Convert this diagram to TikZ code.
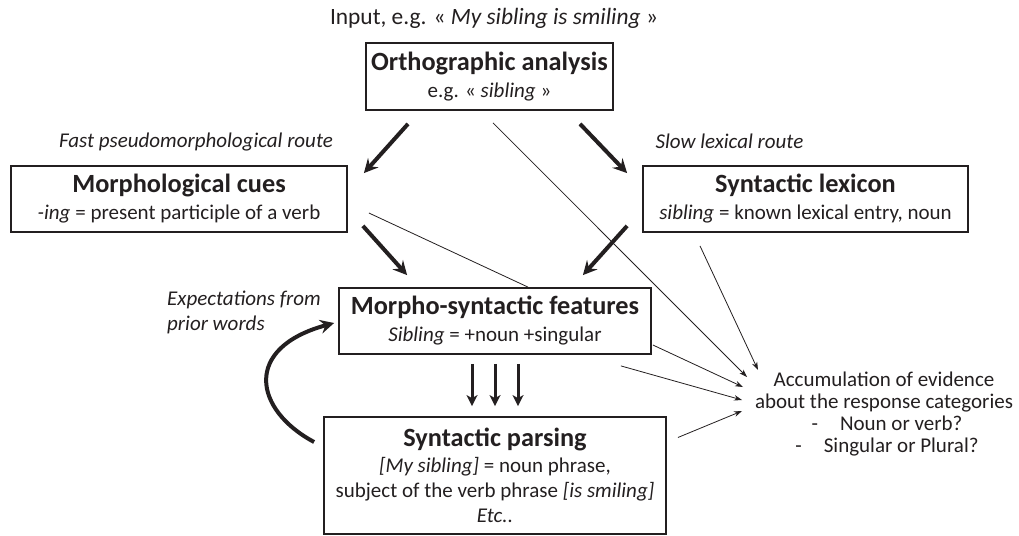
\documentclass[tikz,border=0pt]{standalone}
\usepackage{fontspec}
\setmainfont{Carlito}
\usetikzlibrary{arrows.meta,calc}
\definecolor{ink}{HTML}{231F20}
\newcommand\boxtitle[1]{{\fontsize{26.3}{25}\selectfont\bfseries #1}}
\begin{document}
\begin{tikzpicture}[x=1pt,y=-1pt,
  box/.style={draw=ink,line width=1.8pt,align=center,inner sep=0pt,text=ink,font=\fontsize{21}{25}\selectfont},
  lbl/.style={text=ink,font=\fontsize{21}{25}\selectfont,inner sep=0pt},
  ilbl/.style={text=ink,font=\fontsize{21}{25}\selectfont\itshape,inner sep=0pt},
  bigarrow/.style={draw=ink,line width=4pt,-{Stealth[length=14pt,width=14pt,inset=5pt]}},
  downarrow/.style={draw=ink,line width=3pt,-{Stealth[length=11pt,width=11pt,inset=3pt]}},
  thinarrow/.style={draw=ink,line width=0.8pt,-{Stealth[length=8pt,width=5.5pt]}},
  thinline/.style={draw=ink,line width=0.8pt},
]
\useasboundingbox (0,0) rectangle (1019,535);

% boxes
\node[box,minimum width=247pt,minimum height=67pt] (ortho) at (489.5,76.5)
  {\boxtitle{Orthographic analysis}\\[2pt] e.g. « \textit{sibling} »};
\node[box,minimum width=336pt,minimum height=66pt] (morph) at (179,199)
  {\boxtitle{Morphological cues}\\[2pt] \textit{-ing} = present participle of a verb};
\node[box,minimum width=325pt,minimum height=66pt] (lex) at (805.5,199)
  {\boxtitle{Syntactic lexicon}\\[2pt] \textit{sibling} = known lexical entry, noun};
\node[box,minimum width=312pt,minimum height=66pt] (msf) at (495,321)
  {\boxtitle{Morpho-syntactic features}\\[2pt] \textit{Sibling} = +noun +singular};
\node[box,minimum width=342pt,minimum height=117pt] (parse) at (495,475.5)
  {\boxtitle{Syntactic parsing}\\[1pt] \textit{[My sibling]} = noun phrase,\\ subject of the verb phrase \textit{[is smiling]}\\ \textit{Etc..}};

% labels
\node[lbl,font=\fontsize{23.4}{27}\selectfont] (input) at (494,18) {Input, e.g. « \textit{My sibling is smiling} »};
\node[ilbl] (fast) at (196,142) {Fast pseudomorphological route};
\node[ilbl] (slow) at (729.5,141) {Slow lexical route};
\node[ilbl,align=left,anchor=west] (expect) at (167,312.5) {Expectations from\\prior words};
\node[lbl,align=center,font=\fontsize{21}{22}\selectfont] (accum) at (884,414.5)
  {Accumulation of evidence\\about the response categories\\\hspace{6pt}-\hspace{22pt}Noun or verb?\\\hspace{6pt}-\hspace{22pt}Singular or Plural?};

% thick arrows
\draw[bigarrow] ($(ortho.south)+(-81.5,13)$) -- ($(morph.north east)+(16,8)$);
\draw[bigarrow] ($(ortho.south)+(90.5,13)$) -- ($(lex.north west)+(-15,8)$);
\draw[bigarrow] ($(morph.south east)+(15,-7)$) -- ($(msf.north west)+(69,-12)$);
\draw[bigarrow] ($(lex.south west)+(-15,-7)$) -- ($(msf.north east)+(-69,-12)$);
\foreach \dx in {-23,0,23}
  \draw[downarrow] ($(msf.south)+(\dx,9)$) -- ($(parse.north)+(\dx,-10)$);
\draw[draw=ink,line width=4pt,-{Stealth[length=14pt,width=14pt,inset=5pt]}]
  ($(parse.west)+(-9,-33.5)$) .. controls ($(parse.west)+(-69,-65.5)$) and ($(msf.west)+(-96,27)$) .. ($(msf.west)+(-4,2)$);

% thin connectors
\draw[thinarrow] ($(ortho.south)+(3.5,12)$) -- ($(accum.center)+(-137,-37.5)$);
\draw[thinarrow] ($(lex.south)+(-105.5,13)$) -- ($(accum.center)+(-126,-44.5)$);
\draw[thinline] ($(morph.east)+(21,14)$) -- ($(msf.north)+(33,0)$);
\coordinate (msfout) at ($(msf.south east)+(-31,11)$);
\draw[thinarrow] (msfout) -- ($(accum.center)+(-142,-14.5)$);
\draw[thinarrow] ($(msf.east)+(1,24)$) -- ($(accum.center)+(-141,-27.5)$);
\draw[thinarrow] ($(parse.east)+(11,-38)$) -- ($(accum.center)+(-142,-3.5)$);
\end{tikzpicture}
\end{document}
